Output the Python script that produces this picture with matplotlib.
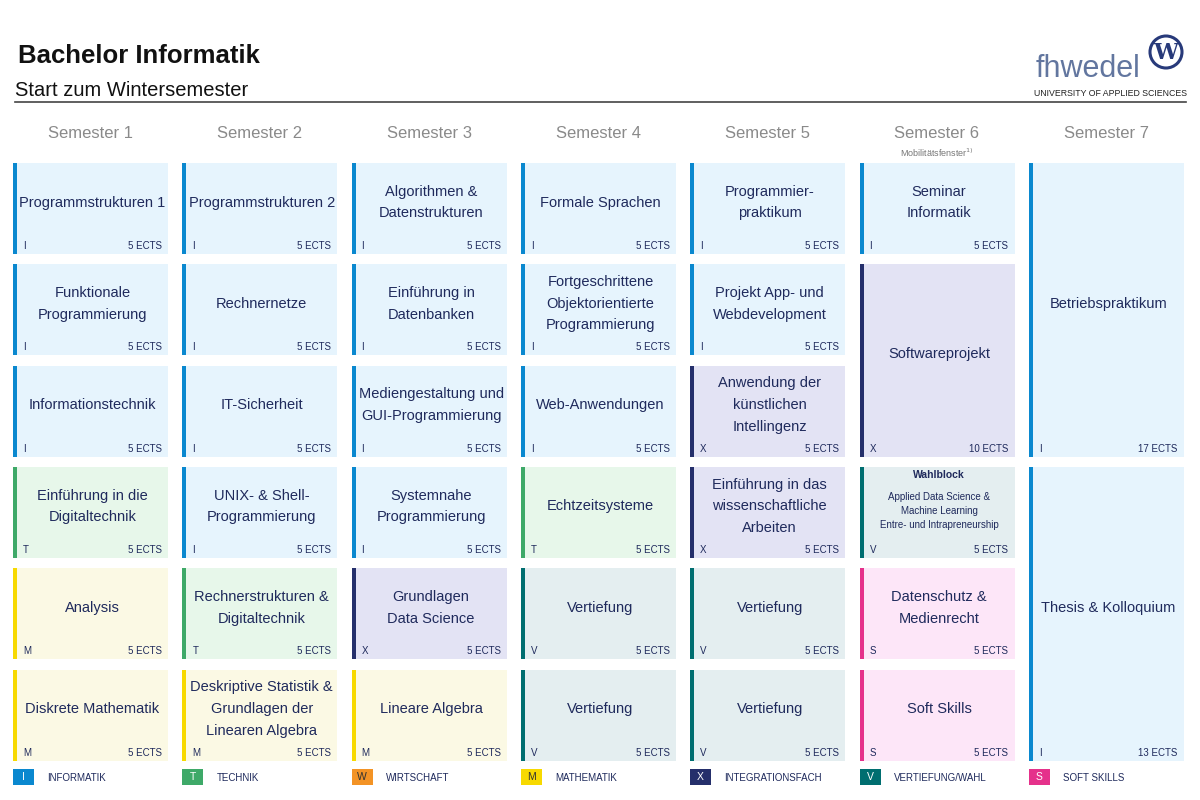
import matplotlib.pyplot as plt
from matplotlib.patches import Rectangle, Circle
from matplotlib import font_manager

# narrow-ish font, fall back to DejaVu
names = {f.name for f in font_manager.fontManager.ttflist}
FONT = 'Liberation Sans' if 'Liberation Sans' in names else 'DejaVu Sans'
plt.rcParams['font.family'] = [FONT, 'DejaVu Sans']

# --- data ---
semesters = ['Semester 1', 'Semester 2', 'Semester 3', 'Semester 4',
             'Semester 5', 'Semester 6', 'Semester 7']

mod_sem = [0, 0, 0, 0, 0, 0,
           1, 1, 1, 1, 1, 1,
           2, 2, 2, 2, 2, 2,
           3, 3, 3, 3, 3, 3,
           4, 4, 4, 4, 4, 4,
           5, 5, 5, 5, 5,
           6, 6]
mod_row = [0, 1, 2, 3, 4, 5,
           0, 1, 2, 3, 4, 5,
           0, 1, 2, 3, 4, 5,
           0, 1, 2, 3, 4, 5,
           0, 1, 2, 3, 4, 5,
           0, 1, 3, 4, 5,
           0, 3]
mod_span = [1] * 31 + [2, 1, 1, 1] + [3, 3]
mod_title = [
    'Programmstrukturen 1', 'Funktionale\nProgrammierung', 'Informationstechnik',
    'Einführung in die\nDigitaltechnik', 'Analysis', 'Diskrete Mathematik',
    'Programmstrukturen 2', 'Rechnernetze', 'IT-Sicherheit',
    'UNIX- & Shell-\nProgrammierung', 'Rechnerstrukturen &\nDigitaltechnik',
    'Deskriptive Statistik &\nGrundlagen der\nLinearen Algebra',
    'Algorithmen &\nDatenstrukturen', 'Einführung in\nDatenbanken',
    'Mediengestaltung und\nGUI-Programmierung', 'Systemnahe\nProgrammierung',
    'Grundlagen\nData Science', 'Lineare Algebra',
    'Formale Sprachen', 'Fortgeschrittene\nObjektorientierte\nProgrammierung',
    'Web-Anwendungen', 'Echtzeitsysteme', 'Vertiefung', 'Vertiefung',
    'Programmier-\npraktikum', 'Projekt App- und\nWebdevelopment',
    'Anwendung der\nkünstlichen\nIntellingenz',
    'Einführung in das\nwissenschaftliche\nArbeiten', 'Vertiefung', 'Vertiefung',
    'Seminar\nInformatik', 'Softwareprojekt', 'WAHLBLOCK',
    'Datenschutz &\nMedienrecht', 'Soft Skills',
    'Betriebspraktikum', 'Thesis & Kolloquium']
mod_cat = ['I', 'I', 'I', 'T', 'M', 'M',
           'I', 'I', 'I', 'I', 'T', 'M',
           'I', 'I', 'I', 'I', 'X', 'M',
           'I', 'I', 'I', 'T', 'V', 'V',
           'I', 'I', 'X', 'X', 'V', 'V',
           'I', 'X', 'V', 'S', 'S',
           'I', 'I']
mod_ects = [5] * 31 + [10, 5, 5, 5] + [17, 13]

wahl_title = 'Wahlblock'
wahl_items = 'Applied Data Science &\nMachine Learning\nEntre- und Intrapreneurship'

cats = ['I', 'T', 'W', 'M', 'X', 'V', 'S']
cat_names = ['INFORMATIK', 'TECHNIK', 'WIRTSCHAFT', 'MATHEMATIK',
             'INTEGRATIONSFACH', 'VERTIEFUNG/WAHL', 'SOFT SKILLS']
bar_col = {'I': '#0a88cf', 'T': '#3ea968', 'W': '#f39325', 'M': '#f7d900',
           'X': '#252f6b', 'V': '#006e70', 'S': '#e5318b'}
bg_col = {'I': '#e6f4fd', 'T': '#e7f7ea', 'W': '#fdf0e2', 'M': '#fbf9e4',
          'X': '#e3e3f4', 'V': '#e4eef0', 'S': '#fde6f8'}
letter_col = {'I': 'white', 'T': 'white', 'W': '#333333', 'M': '#333333',
              'X': 'white', 'V': 'white', 'S': 'white'}

TXT = '#1f2a5c'

# --- layout (pixel space) ---
X0, PITCH_X, CELL_W = 13, 169.3, 155
Y0, PITCH_Y, CELL_H = 163, 101.3, 91
BAR_W = 4

fig = plt.figure(figsize=(12, 8), dpi=100)
ax = fig.add_axes([0, 0, 1, 1])
ax.set_xlim(0, 1200)
ax.set_ylim(800, 0)
ax.axis('off')

# header
ax.text(18, 56, 'Bachelor Informatik', fontsize=18.5, fontweight='bold',
        color='#111111', va='center', ha='left')
ax.text(15, 90, 'Start zum Wintersemester', fontsize=14.5, color='#111111',
        va='center', ha='left')
ax.plot([15, 1186], [102, 102], color='#444444', lw=1.2)

# logo
ax.text(1036, 69, 'fhwedel', fontsize=22, color='#62769f', va='center',
        ha='left', fontweight='light')
ax.add_patch(Circle((1166, 52), 16, facecolor='white', edgecolor='#283a7a', lw=2.2))
ax.text(1166, 53, 'W', fontsize=16, fontweight='bold', color='#283a7a',
        ha='center', va='center', family='DejaVu Serif')
ax.text(1110, 94, 'UNIVERSITY OF APPLIED SCIENCES', fontsize=6.3,
        color='#222222', ha='center', va='center')

# semester headers
for i, s in enumerate(semesters):
    cx = X0 + i * PITCH_X + CELL_W / 2
    ax.text(cx, 133, s, fontsize=12, color='#8a8a8a', ha='center', va='center')
ax.text(X0 + 5 * PITCH_X + CELL_W / 2, 153, 'Mobilitätsfenster$^{1)}$',
        fontsize=6.5, color='#777777', ha='center', va='center')

# modules
for s, r, sp, t, c, e in zip(mod_sem, mod_row, mod_span, mod_title, mod_cat, mod_ects):
    x = X0 + s * PITCH_X
    y = Y0 + r * PITCH_Y
    h = CELL_H + (sp - 1) * PITCH_Y
    ax.add_patch(Rectangle((x, y), CELL_W, h, facecolor=bg_col[c], edgecolor='none'))
    ax.add_patch(Rectangle((x, y), BAR_W, h, facecolor=bar_col[c], edgecolor='none'))
    cx = x + CELL_W / 2 + 2
    if t == 'WAHLBLOCK':
        ax.text(cx, y + 8, wahl_title, fontsize=7.5, fontweight='bold', color=TXT,
                ha='center', va='center')
        ax.text(cx, y + 44, wahl_items, fontsize=7, color=TXT, ha='center',
                va='center', linespacing=1.55)
    else:
        ax.text(cx, y + h / 2 - 6, t, fontsize=10.5, color=TXT, ha='center',
                va='center', linespacing=1.7)
    ax.text(x + 10, y + h - 8, c, fontsize=7, color=TXT, ha='left', va='center')
    ax.text(x + CELL_W - 6, y + h - 8, f'{e} ECTS', fontsize=7, color=TXT,
            ha='right', va='center')

# legend
for i, (c, n) in enumerate(zip(cats, cat_names)):
    x = X0 + i * PITCH_X
    ax.add_patch(Rectangle((x, 769), 21, 16, facecolor=bar_col[c], edgecolor='none'))
    ax.text(x + 10.5, 777, c, fontsize=7.5, color=letter_col[c], ha='center',
            va='center')
    ax.text(x + 34, 778, n, fontsize=7, color=TXT, ha='left', va='center')

fig.savefig('out.png', dpi=100)
